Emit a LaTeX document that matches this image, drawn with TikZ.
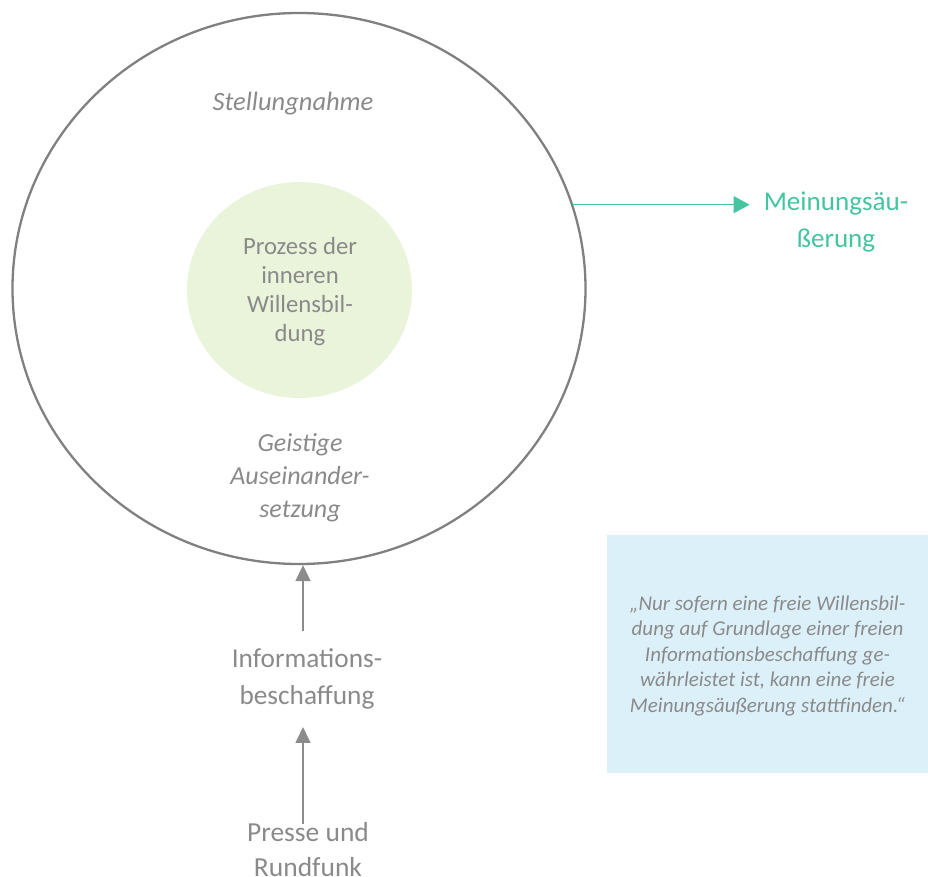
\documentclass[tikz,border=0pt]{standalone}
\usepackage{fontspec}
\setmainfont{Carlito}
\usetikzlibrary{arrows.meta,shapes.geometric}
\definecolor{txtgray}{HTML}{8A8A8A}
\definecolor{linegray}{HTML}{808080}
\definecolor{arrowgray}{HTML}{8C8C8C}
\definecolor{teal}{HTML}{44C4A1}
\definecolor{paleGreen}{HTML}{E9F4DA}
\definecolor{paleBlue}{HTML}{DCF0FA}
\begin{document}
\begin{tikzpicture}[x=1pt,y=-1pt,
  label/.style={text=txtgray, align=center, inner sep=0pt},
  labelit/.style={label, font=\itshape\fontsize{26.5}{33}\selectfont},
  labelup/.style={label, font=\fontsize{27.3}{37}\selectfont},
  upflow/.style={draw=arrowgray, line width=1.6pt, -{Triangle[length=16pt,width=15pt]}},
  outflow/.style={draw=teal, line width=1.4pt, -{Triangle[length=16pt,width=17pt]}}]
  \useasboundingbox (0,0) rectangle (928,877);

  % sphere of opinion forming
  \node[ellipse, draw=linegray, line width=2.3pt, minimum width=573pt, minimum height=551pt, inner sep=0pt] (outer) at (299,288.5) {};
  \node[ellipse, fill=paleGreen, minimum width=225pt, minimum height=216pt, inner sep=0pt] (inner) at (299.5,290) {};
  \node[label, font=\fontsize{24.7}{29.3}\selectfont] (innertext) at (300,291.5) {Prozess der\\inneren\\Willensbil-\\dung};
  \node[labelit] (stell) at (293,104) {Stellungnahme};
  \node[labelit, font=\itshape\fontsize{26}{33}\selectfont] (geist) at (300,477.5) {Geistige\\Auseinander-\\setzung};

  % sources below
  \node[labelup] (info) at (307,678.5) {Informations-\\beschaffung};
  \node[labelup, font=\fontsize{27.5}{35}\selectfont] (presse) at (308,849.5) {Presse und\\Rundfunk};
  \coordinate (axis) at (303,0);
  \draw[upflow] ([yshift=17pt]axis |- info.north) -- (axis |- outer.south);
  \draw[upflow] ([yshift=-2pt]axis |- presse.north) -- ([yshift=-18pt]axis |- info.south);

  % expression of opinion
  \node[label, text=teal, font=\fontsize{27.1}{37}\selectfont] (meinung) at (836,222.5) {Meinungsäu-\\ßerung};
  \draw[outflow] (outer.17.2) -- ([xshift=-14pt]outer.17.2 -| meinung.west);

  % quotation box
  \fill[paleBlue] (607,535) rectangle (928,773);
  \node[label, font=\itshape\fontsize{21}{25.5}\selectfont] (quote) at (767.5,656)
    {„Nur sofern eine freie Willensbil-\\dung auf Grundlage einer freien\\Informationsbeschaffung ge-\\währleistet ist, kann eine freie\\Meinungsäußerung stattfinden.“};
\end{tikzpicture}
\end{document}
